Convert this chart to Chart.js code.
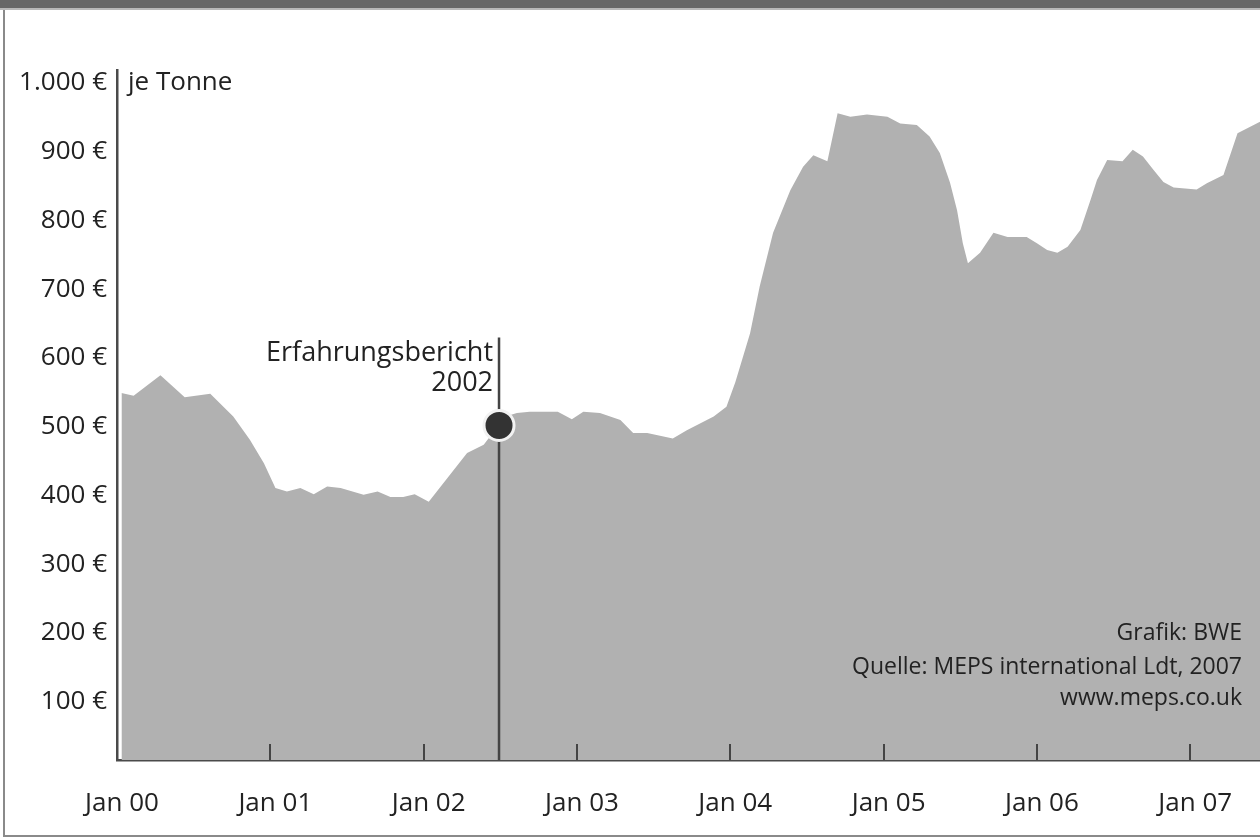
<!DOCTYPE html>
<html>
<head>
<meta charset="utf-8">
<script src="https://cdn.jsdelivr.net/npm/chart.js@4.4.1/dist/chart.umd.min.js"></script>
<style>
html,body{margin:0;padding:0;background:#fff;width:1260px;height:839px;overflow:hidden;}
#wrap{position:relative;width:1260px;height:839px;}
#topbar{position:absolute;left:0;top:0;width:1260px;height:8px;background:#676767;border-bottom:2px solid #b8b8b8;}
#leftb{position:absolute;left:3px;top:10px;width:2px;height:827px;background:#8a8a8a;}
#botb{position:absolute;left:3px;top:835px;width:1257px;height:2px;background:#8a8a8a;}
canvas{position:absolute;left:0;top:0;}
</style>
</head>
<body>
<div id="wrap">
<div id="topbar"></div><div id="leftb"></div><div id="botb"></div>
<canvas id="c" width="1260" height="839"></canvas>
</div>
<script>
// Months since Jan 2000 (vertices of the price curve)
const months = [0.35,1.3,3.4,5.3,7.3,9.1,10.4,11.5,12.4,13.3,14.35,15.4,16.45,17.5,19.3,20.4,21.4,22.4,23.3,24.4,27.4,28.7,30.4,31.3,32.3,34.5,35.6,36.5,37.8,39.4,40.4,41.5,43.5,44.6,46.7,47.7,48.4,49.55,50.3,51.35,52.7,53.7,54.5,55.6,56.4,57.4,58.7,60.3,61.3,62.6,63.6,64.4,65.2,65.75,66.2,66.6,67.55,68.6,69.7,71.2,72.0,72.8,73.6,74.4,75.4,76.2,76.7,77.5,78.7,79.5,80.3,81.1,81.9,82.7,84.5,85.3,86.6,87.7,89.5];
// Price in EUR per tonne
const prices = [549,545,575,543,548,515,481,447,411,406,411,402,413,411,401,406,398,398,402,391,462,474,515,520,522,522,511,522,520,510,491,491,483,495,515,529,565,636,704,782,844,878,895,886,956,951,954,951,941,939,922,898,855,815,767,738,753,782,776,776,767,757,753,762,786,830,859,888,886,903,893,874,856,848,845,854,866,927,944];

const xTickMonths = [0,12,24,36,48,60,72,84];
const xTickLabels = ['Jan 00','Jan 01','Jan 02','Jan 03','Jan 04','Jan 05','Jan 06','Jan 07'];
const yTickValues = [100,200,300,400,500,600,700,800,900,1000];
const yTickLabels = ['100 €','200 €','300 €','400 €','500 €','600 €','700 €','800 €','900 €','1.000 €'];

const markerMonth = 29.9;
const markerPrice = 502;
const markerTop = 630;
const markerLabel = ['Erfahrungsbericht','2002'];
const unitLabel = 'je Tonne';
const sourceLines = ['Grafik: BWE','Quelle: MEPS international Ldt, 2007','www.meps.co.uk'];

const yMin = 15.3, yMax = 1018.9;
const xMin = 0, xMax = 89.46;

const FONT = '"Open Sans", "Noto Sans", sans-serif';
const TEXT = '#222222';

const decor = {
  id: 'decor',
  afterDraw(chart) {
    const {ctx, chartArea, scales} = chart;
    const x = scales.x, y = scales.y;
    ctx.save();
    // inner tick marks on x axis
    ctx.strokeStyle = '#444';
    ctx.lineWidth = 2;
    xTickMonths.forEach(m => {
      if (m === 0) return;
      const px = Math.round(x.getPixelForValue(m));
      ctx.beginPath();
      ctx.moveTo(px, chartArea.bottom);
      ctx.lineTo(px, chartArea.bottom - 16);
      ctx.stroke();
    });
    ctx.fillStyle = TEXT;
    ctx.textBaseline = 'middle';
    ctx.font = '26px ' + FONT;
    ctx.textAlign = 'left';
    ctx.fillText(unitLabel, chartArea.left + 11, y.getPixelForValue(1000));
    // marker label
    const mx = x.getPixelForValue(markerMonth);
    const my = y.getPixelForValue(markerTop);
    ctx.font = '27px ' + FONT;
    ctx.textAlign = 'right';
    ctx.fillText(markerLabel[0], mx - 6, my + 16);
    ctx.fillText(markerLabel[1], mx - 6, my + 46);
    // source
    ctx.font = '23px ' + FONT;
    const rx = chartArea.right - 18;
    ctx.fillText(sourceLines[0], rx, chartArea.bottom - 127);
    ctx.fillText(sourceLines[1], rx, chartArea.bottom - 93);
    ctx.fillText(sourceLines[2], rx, chartArea.bottom - 62);
    ctx.restore();
  }
};

new Chart(document.getElementById('c'), {
  type: 'line',
  data: {
    datasets: [
      {
        label: 'marker',
        data: [{x: markerMonth, y: markerPrice}],
        showLine: false,
        pointRadius: 15,
        pointBorderWidth: 3,
        pointBackgroundColor: '#333333',
        pointBorderColor: '#f2f2f2',
        order: 1
      },
      {
        label: 'markerLine',
        data: [{x: markerMonth, y: yMin}, {x: markerMonth, y: markerTop}],
        borderColor: '#444',
        borderWidth: 2.5,
        pointRadius: 0,
        fill: false,
        order: 2
      },
      {
        label: 'Preis',
        data: months.map((m, i) => ({x: m, y: prices[i]})),
        borderWidth: 0,
        borderColor: 'rgba(0,0,0,0)',
        backgroundColor: '#b1b1b1',
        pointRadius: 0,
        tension: 0,
        fill: 'start',
        order: 3
      }
    ]
  },
  options: {
    responsive: false,
    animation: false,
    devicePixelRatio: 1,
    layout: {autoPadding: false, padding: {top: 70, right: 0, bottom: 0, left: 0}},
    plugins: {legend: {display: false}, tooltip: {enabled: false}},
    scales: {
      x: {
        type: 'linear',
        min: xMin,
        max: xMax,
        afterBuildTicks: s => { s.ticks = xTickMonths.map(v => ({value: v})); },
        afterFit: s => { s.height = 79; s.paddingLeft = 0; s.paddingRight = 0; },
        grid: {display: false, drawTicks: false},
        border: {display: true, color: '#4a4a4a', width: 2.5},
        ticks: {
          callback: (v) => xTickLabels[xTickMonths.indexOf(v)],
          font: {family: FONT, size: 26},
          color: TEXT,
          padding: 28,
          labelOffset: 5,
          maxRotation: 0,
          autoSkip: false
        }
      },
      y: {
        type: 'linear',
        min: yMin,
        max: yMax,
        afterBuildTicks: s => { s.ticks = yTickValues.map(v => ({value: v})); },
        afterFit: s => { s.width = 117; s.paddingTop = 0; s.paddingBottom = 0; },
        grid: {display: false, drawTicks: false},
        border: {display: true, color: '#4a4a4a', width: 2.5},
        ticks: {
          callback: (v) => yTickLabels[yTickValues.indexOf(v)],
          font: {family: FONT, size: 26},
          color: TEXT,
          padding: 10
        }
      }
    }
  },
  plugins: [decor]
});
</script>
</body>
</html>
